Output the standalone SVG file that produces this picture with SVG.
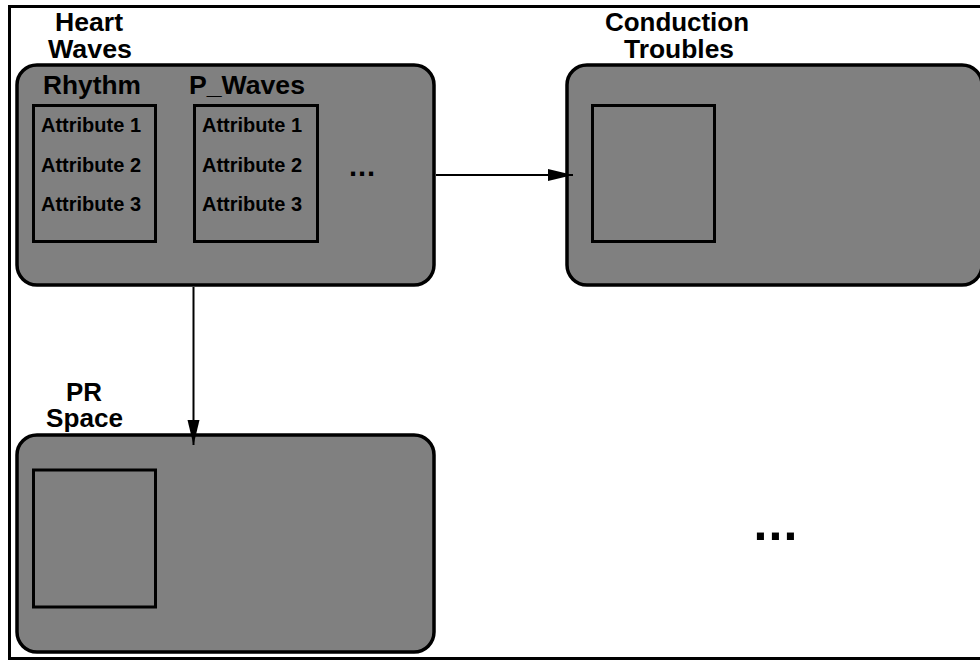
<svg xmlns="http://www.w3.org/2000/svg" width="980" height="660" viewBox="0 0 980 660">
<style>
.frame{fill:none;stroke:#000;stroke-width:3}
.node{fill:#808080;stroke:#000;stroke-width:3.5}
.box{fill:#808080;stroke:#000;stroke-width:3}
.title{font-family:"Liberation Sans",Arial,sans-serif;font-weight:bold;font-size:25px;fill:#000;text-anchor:middle}
.attr{font-family:"Liberation Sans",Arial,sans-serif;font-weight:bold;font-size:20px;fill:#000}
.dots{font-family:"Liberation Sans",Arial,sans-serif;font-weight:bold;fill:#000}
.conn{fill:none;stroke:#000;stroke-width:2}
</style>
<defs>
<marker id="arr" markerUnits="userSpaceOnUse" markerWidth="26" markerHeight="14" refX="25" refY="6.5" orient="auto">
<path d="M0,0.5 L25,6.5 L0,12.5 Z" fill="#000"/>
</marker>
</defs>
<rect width="980" height="660" fill="#fff"/>
<rect class="frame" x="9.5" y="6.5" width="1000" height="652"/>

<g id="heart-waves">
<text class="title" x="89" y="31" textLength="68" lengthAdjust="spacingAndGlyphs">Heart</text>
<text class="title" x="90" y="58" textLength="84" lengthAdjust="spacingAndGlyphs">Waves</text>
<rect class="node" x="17" y="65" width="417" height="220" rx="20" ry="20"/>
<g id="rhythm">
<text class="title" x="92" y="94" textLength="98" lengthAdjust="spacingAndGlyphs">Rhythm</text>
<rect class="box" x="33.5" y="105.5" width="122" height="136"/>
<text class="attr" x="41" y="132">Attribute 1</text>
<text class="attr" x="41" y="172">Attribute 2</text>
<text class="attr" x="41" y="211">Attribute 3</text>
</g>
<g id="p-waves">
<text class="title" x="247" y="94" textLength="116" lengthAdjust="spacingAndGlyphs">P_Waves</text>
<rect class="box" x="194.5" y="105.5" width="123" height="136"/>
<text class="attr" x="202" y="132">Attribute 1</text>
<text class="attr" x="202" y="172">Attribute 2</text>
<text class="attr" x="202" y="211">Attribute 3</text>
</g>
<text class="dots" x="349" y="176" font-size="29" letter-spacing="0.9">...</text>
</g>

<g id="conduction-troubles">
<text class="title" x="677" y="31" textLength="144" lengthAdjust="spacingAndGlyphs">Conduction</text>
<text class="title" x="679" y="58" textLength="110" lengthAdjust="spacingAndGlyphs">Troubles</text>
<rect class="node" x="567" y="65" width="415" height="220" rx="20" ry="20"/>
<rect class="box" x="592.5" y="105.5" width="122" height="136"/>
</g>

<g id="pr-space">
<text class="title" x="84" y="401" textLength="36" lengthAdjust="spacingAndGlyphs">PR</text>
<text class="title" x="84.5" y="427" textLength="77" lengthAdjust="spacingAndGlyphs">Space</text>
<rect class="node" x="17" y="435" width="417" height="217" rx="20" ry="20"/>
<rect class="box" x="33.5" y="470" width="122" height="137"/>
</g>

<g id="more">
<text class="dots" x="753.5" y="540" font-size="50" letter-spacing="1.1">...</text>
</g>

<g id="connectors">
<line class="conn" x1="436" y1="175" x2="573" y2="175" marker-end="url(#arr)"/>
<line class="conn" x1="193.5" y1="287" x2="193.5" y2="445" marker-end="url(#arr)"/>
</g>
</svg>
